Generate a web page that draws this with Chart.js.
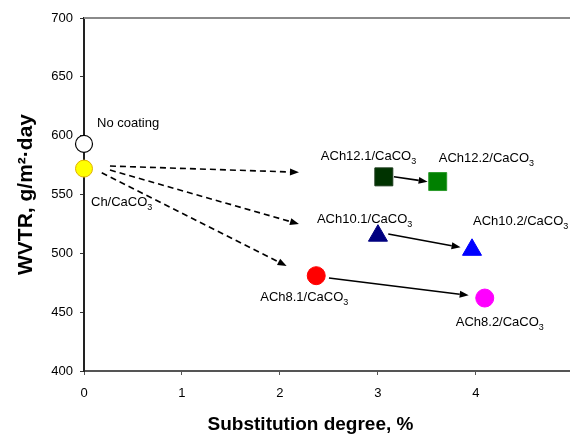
<!DOCTYPE html>
<html>
<head>
<meta charset="utf-8">
<script src="https://cdn.jsdelivr.net/npm/chart.js@4.4.0/dist/chart.umd.min.js"></script>
<style>
html,body{margin:0;padding:0;background:#fff;}
#wrap{width:570px;height:437px;position:relative;}
</style>
</head>
<body>
<div id="wrap"><canvas id="c" width="570" height="437"></canvas></div>
<script>
// ---- data ----
const categories = ['No coating', 'Ch/CaCO3', 'ACh12.1/CaCO3', 'ACh12.2/CaCO3', 'ACh10.1/CaCO3', 'ACh10.2/CaCO3', 'ACh8.1/CaCO3', 'ACh8.2/CaCO3'];
const substitutionDegree = [0, 0, 3.06, 3.61, 3.0, 3.96, 2.37, 4.09];
const wvtrValues = [593, 572, 565, 561, 515, 503, 481, 462];
const xTickValues = [0, 1, 2, 3, 4];
const yTickValues = [400, 450, 500, 550, 600, 650, 700];
const xAxisTitle = 'Substitution degree, %';
const yAxisTitle = 'WVTR, g/m²·day';

// arrows (data units)
const arrowFromX = [0.265, 0.265, 0.181, 3.163, 3.105, 2.50];
const arrowFromY = [574.2, 570.8, 568.5, 565.1, 516.4, 479.0];
const arrowToX   = [2.194, 2.194, 2.068, 3.507, 3.843, 3.926];
const arrowToY   = [568.9, 524.9, 489.2, 560.9, 505.1, 464.3];
const arrowDashed = [true, true, true, false, false, false];

// ---- styles ----
const pointStyles = ['circle', 'circle', 'rect', 'rect', 'triangle', 'triangle', 'circle', 'circle'];
const pointFills = ['#ffffff', '#ffff00', '#003300', '#008000', '#000080', '#0000ff', '#ff0000', '#ff00ff'];
const pointBorders = ['#000000', '#e0b000', '#1a3a1a', '#2a9a2a', '#000080', '#0000ff', '#ff0000', '#ff00ff'];
const pointRadii = [8.5, 8.5, 12.7, 12.7, 11, 11, 9, 9];
const pointBorderWidths = [1.2, 1, 1, 1, 1, 1, 1, 1];
// label offsets relative to each point (pixels): [dx to left edge, dy to text middle]
const labelOffsets = [[13, -20], [7, 34], [-63, -20], [1, -23], [-61, -16], [1, -28], [-56, 22], [-29, 24]];

const FONT = "'Liberation Sans', Arial, sans-serif";

function drawLabel(ctx, text, x, y) {
  ctx.save();
  ctx.fillStyle = '#000';
  ctx.textBaseline = 'middle';
  ctx.textAlign = 'left';
  let main = text, sub = '';
  if (text.endsWith('3')) { main = text.slice(0, -1); sub = '3'; }
  ctx.font = '13px ' + FONT;
  ctx.fillText(main, x, y);
  const w = ctx.measureText(main).width;
  if (sub) {
    ctx.font = '9px ' + FONT;
    ctx.fillText(sub, x + w, y + 5);
  }
  ctx.restore();
}

const annotPlugin = {
  id: 'annot',
  beforeDatasetsDraw(chart) {
    const ctx = chart.ctx, xs = chart.scales.x, ys = chart.scales.y;
    // top border
    ctx.save();
    ctx.strokeStyle = '#8a8a8a';
    ctx.lineWidth = 2;
    ctx.beginPath();
    ctx.moveTo(chart.chartArea.left, chart.chartArea.top);
    ctx.lineTo(chart.chartArea.right, chart.chartArea.top);
    ctx.stroke();
    ctx.restore();
    for (let i = 0; i < arrowFromX.length; i++) {
      const x1 = xs.getPixelForValue(arrowFromX[i]), y1 = ys.getPixelForValue(arrowFromY[i]);
      const x2 = xs.getPixelForValue(arrowToX[i]), y2 = ys.getPixelForValue(arrowToY[i]);
      const ang = Math.atan2(y2 - y1, x2 - x1);
      const hl = 9, hw = 3.5;
      const bx = x2 - Math.cos(ang) * hl, by = y2 - Math.sin(ang) * hl;
      ctx.save();
      ctx.strokeStyle = '#000';
      ctx.fillStyle = '#000';
      ctx.lineWidth = 1.6;
      if (arrowDashed[i]) ctx.setLineDash([6, 4]);
      ctx.beginPath();
      ctx.moveTo(x1, y1);
      ctx.lineTo(bx, by);
      ctx.stroke();
      ctx.setLineDash([]);
      ctx.beginPath();
      ctx.moveTo(x2, y2);
      ctx.lineTo(bx - Math.sin(ang) * hw, by + Math.cos(ang) * hw);
      ctx.lineTo(bx + Math.sin(ang) * hw, by - Math.cos(ang) * hw);
      ctx.closePath();
      ctx.fill();
      ctx.restore();
    }
  },
  afterDatasetsDraw(chart) {
    const ctx = chart.ctx, xs = chart.scales.x, ys = chart.scales.y;
    for (let i = 0; i < categories.length; i++) {
      const px = xs.getPixelForValue(substitutionDegree[i]);
      const py = ys.getPixelForValue(wvtrValues[i]);
      drawLabel(ctx, categories[i], px + labelOffsets[i][0], py + labelOffsets[i][1]);
    }
  },
  afterDraw(chart) {
    // x-axis title (offset left of the axis centre, as in the original figure)
    const ctx = chart.ctx, xs = chart.scales.x;
    ctx.save();
    ctx.fillStyle = '#000';
    ctx.font = 'bold 19px ' + FONT;
    ctx.textAlign = 'center';
    ctx.textBaseline = 'alphabetic';
    ctx.fillText(xAxisTitle, xs.left + 226.5, xs.bottom - 7);
    ctx.restore();
  }
};

new Chart(document.getElementById('c'), {
  type: 'scatter',
  data: {
    labels: categories,
    datasets: [{
      data: substitutionDegree.map((x, i) => ({ x: x, y: wvtrValues[i] })),
      pointStyle: pointStyles,
      backgroundColor: pointFills,
      borderColor: pointBorders,
      pointRadius: pointRadii,
      pointHoverRadius: pointRadii,
      borderWidth: pointBorderWidths,
      clip: false
    }]
  },
  options: {
    responsive: false,
    animation: false,
    events: [],
    layout: { autoPadding: false, padding: { top: 18, left: 0, right: 0, bottom: 0 } },
    plugins: { legend: { display: false }, tooltip: { enabled: false } },
    scales: {
      x: {
        type: 'linear',
        min: 0,
        max: 4.96,
        afterFit(s) { s.height = 66; s.paddingRight = 0; s.paddingLeft = 0; },
        afterBuildTicks(s) { s.ticks = xTickValues.map(v => ({ value: v })); },
        ticks: { font: { family: FONT, size: 13 }, color: '#000', padding: 11, maxRotation: 0 },
        grid: { drawOnChartArea: false, drawTicks: true, tickLength: 4, color: '#555', lineWidth: 1 },
        border: { display: true, color: '#555', width: 2 },
        title: { display: false }
      },
      y: {
        type: 'linear',
        min: 400,
        max: 700,
        afterFit(s) { s.width = 84; },
        afterBuildTicks(s) { s.ticks = yTickValues.map(v => ({ value: v })); },
        ticks: { font: { family: FONT, size: 13 }, color: '#000', padding: 7 },
        grid: { drawOnChartArea: false, drawTicks: true, tickLength: 4, color: '#333', lineWidth: 1 },
        border: { display: true, color: '#222', width: 2 },
        title: { display: true, text: yAxisTitle, color: '#000', font: { family: FONT, size: 21, weight: 'bold' }, padding: { top: 14, bottom: 0 } }
      }
    }
  },
  plugins: [annotPlugin]
});
</script>
</body>
</html>
